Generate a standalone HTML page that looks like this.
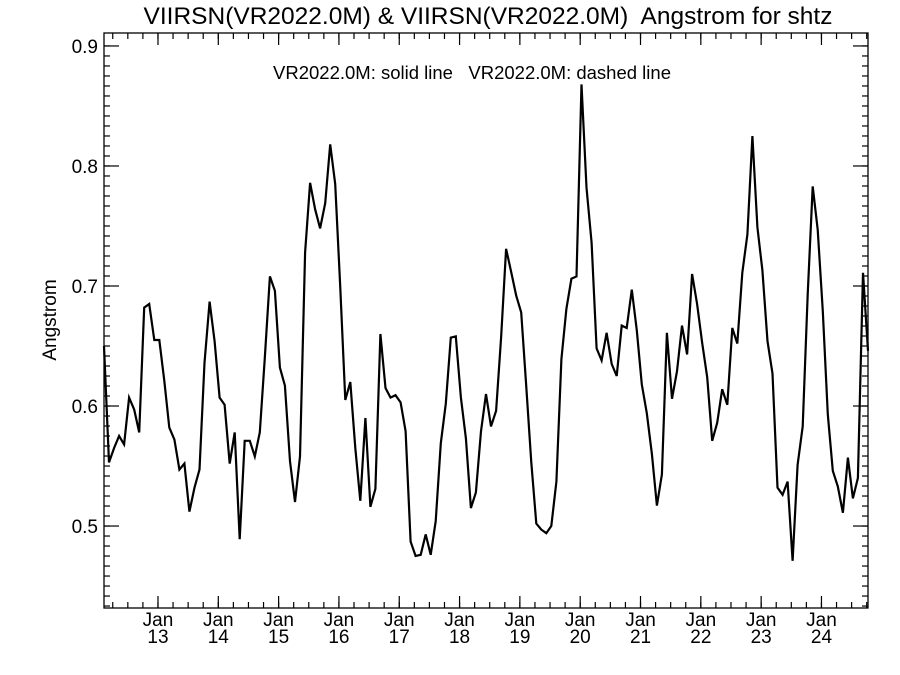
<!DOCTYPE html>
<html><head><meta charset="utf-8"><style>
html,body{margin:0;padding:0;background:#fff;}
svg{display:block;font-family:"Liberation Sans",Arial,sans-serif;}
</style></head><body>
<svg id="chart" width="900" height="675" viewBox="0 0 900 675" xmlns="http://www.w3.org/2000/svg">
<text x="488" y="24" font-size="24.5" text-anchor="middle" xml:space="preserve">VIIRSN(VR2022.0M) &amp; VIIRSN(VR2022.0M)  Angstrom for shtz</text>
<text x="472" y="79" font-size="18.5" text-anchor="middle" xml:space="preserve">VR2022.0M: solid line   VR2022.0M: dashed line</text>
<text transform="translate(56,320) rotate(-90)" font-size="19" text-anchor="middle">Angstrom</text>
<g id="axes"></g>
<g id="series"></g>
</svg>
<script>
const values = [0.65,0.553,0.565,0.575,0.568,0.607,0.597,0.578,0.682,0.685,0.655,0.655,0.621,0.582,0.572,0.547,0.552,0.512,0.532,0.547,
0.636,0.687,0.654,0.607,0.601,0.552,0.578,0.489,0.571,0.571,0.558,0.578,0.640,0.708,0.696,0.632,0.617,0.554,0.520,0.558,
0.728,0.786,0.764,0.748,0.769,0.818,0.785,0.70,0.605,0.620,0.565,0.521,0.590,0.516,0.531,0.660,0.615,0.607,0.609,0.603,
0.579,0.487,0.475,0.476,0.493,0.476,0.504,0.569,0.602,0.657,0.658,0.607,0.573,0.515,0.528,0.579,0.610,0.583,0.596,0.657,
0.731,0.712,0.692,0.678,0.617,0.554,0.502,0.497,0.494,0.500,0.537,0.639,0.681,0.706,0.708,0.868,0.782,0.736,0.648,0.638,
0.661,0.635,0.625,0.667,0.665,0.697,0.663,0.618,0.594,0.560,0.517,0.543,0.661,0.606,0.629,0.667,0.643,0.710,0.685,0.653,
0.624,0.571,0.586,0.614,0.601,0.665,0.652,0.711,0.743,0.825,0.749,0.713,0.654,0.627,0.532,0.526,0.537,0.471,0.551,0.583,
0.693,0.783,0.747,0.679,0.593,0.546,0.533,0.511,0.557,0.523,0.540,0.711,0.646];
const startYear = 2012.105;
const yTicks = [0.5,0.6,0.7,0.8,0.9];
const yTickLabels = ["0.5","0.6","0.7","0.8","0.9"];
const xYears = [2013,2014,2015,2016,2017,2018,2019,2020,2021,2022,2023,2024];
const xTickLabels = ["13","14","15","16","17","18","19","20","21","22","23","24"];

const L=104,R=868,T=33,B=608;
const xMin=2012.105, xMax=2012.105+152/12;
const yMin=0.4317, yMax=0.9108;
const xs=v=>L+(v-xMin)/(xMax-xMin)*(R-L);
const ys=v=>B-(v-yMin)/(yMax-yMin)*(B-T);
const NS="http://www.w3.org/2000/svg";
const axes=document.getElementById('axes');
function line(x1,y1,x2,y2,name){
  const l=document.createElementNS(NS,'line');
  l.setAttribute('x1',x1);l.setAttribute('y1',y1);l.setAttribute('x2',x2);l.setAttribute('y2',y2);
  l.setAttribute('stroke','#000');l.setAttribute('stroke-width','1.2');
  
  
  axes.appendChild(l);
}
const box=document.createElementNS(NS,'rect');
box.setAttribute('x',L);box.setAttribute('y',T);box.setAttribute('width',R-L);box.setAttribute('height',B-T);
box.setAttribute('fill','none');box.setAttribute('stroke','#000');box.setAttribute('stroke-width','1.3');


axes.appendChild(box);
for(let k=0;k<=60;k++){
  const v=0.4+k*(0.1/12);
  if(v<yMin||v>yMax) continue;
  const y=ys(v);
  line(L,y,L+6,y,'y-minor-tick');
  line(R,y,R-6,y,'y-minor-tick');
}
yTicks.forEach((v,i)=>{
  const y=ys(v);
  line(L,y,L+15,y,'y-major-tick');
  line(R,y,R-15,y,'y-major-tick');
  const t=document.createElementNS(NS,'text');
  t.setAttribute('x',L-6);t.setAttribute('y',y+7);t.setAttribute('font-size','19');t.setAttribute('text-anchor','end');
  t.textContent=yTickLabels[i];
  
  
  axes.appendChild(t);
});
for(let q=2012;q<2025;q+=0.25){
  if(q<xMin||q>xMax) continue;
  const x=xs(q);
  line(x,B,x,B-6,'x-minor-tick');
  line(x,T,x,T+6,'x-minor-tick');
}
xYears.forEach((yr,i)=>{
  const x=xs(yr);
  line(x,B,x,B-12,'x-major-tick');
  line(x,T,x,T+12,'x-major-tick');
  const t1=document.createElementNS(NS,'text');
  t1.setAttribute('x',x);t1.setAttribute('y',626);t1.setAttribute('font-size','19');t1.setAttribute('text-anchor','middle');
  t1.textContent='Jan';
  
  
  axes.appendChild(t1);
  const t2=document.createElementNS(NS,'text');
  t2.setAttribute('x',x);t2.setAttribute('y',643);t2.setAttribute('font-size','19');t2.setAttribute('text-anchor','middle');
  t2.textContent=xTickLabels[i];
  
  
  axes.appendChild(t2);
});
const pts=values.map((v,i)=>xs(startYear+i/12).toFixed(1)+','+ys(v).toFixed(1)).join(' ');
const pl=document.createElementNS(NS,'polyline');
pl.setAttribute('points',pts);pl.setAttribute('fill','none');pl.setAttribute('stroke','#000');
pl.setAttribute('stroke-width','2.2');pl.setAttribute('stroke-linejoin','miter');


document.getElementById('series').appendChild(pl);
</script>
</body></html>
